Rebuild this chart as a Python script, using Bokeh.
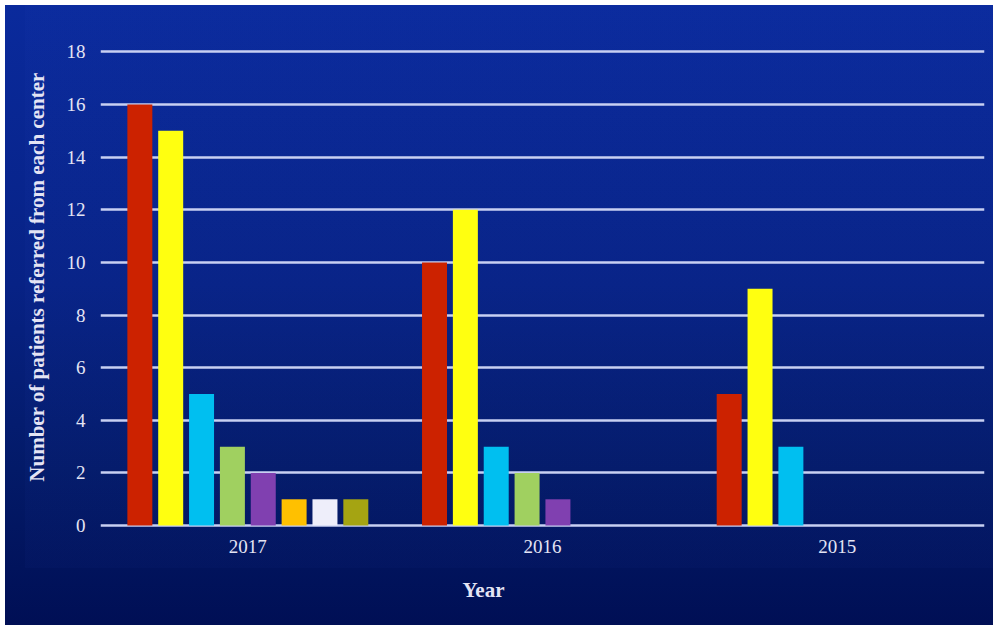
from bokeh.plotting import figure
from bokeh.models import ColumnDataSource, Range1d, FactorRange, FixedTicker, Title
from bokeh.transform import dodge
from bokeh.embed import file_html
from bokeh.resources import INLINE

# ---- data ----
years = ["2017", "2016", "2015"]
centers = ["Center 1", "Center 2", "Center 3", "Center 4",
           "Center 5", "Center 6", "Center 7", "Center 8"]
center_1 = [16, 10, 5]
center_2 = [15, 12, 9]
center_3 = [5, 3, 3]
center_4 = [3, 2, 0]
center_5 = [2, 1, 0]
center_6 = [1, 0, 0]
center_7 = [1, 0, 0]
center_8 = [1, 0, 0]
series = [center_1, center_2, center_3, center_4,
          center_5, center_6, center_7, center_8]
colors = ["#cc2200", "#ffff10", "#00bff0", "#a0d060",
          "#8040b0", "#ffc000", "#eeeefa", "#a5a412"]
y_ticks = [0, 2, 4, 6, 8, 10, 12, 14, 16, 18]

data = {"year": years}
for name, vals in zip(centers, series):
    data[name] = vals
src = ColumnDataSource(data)

TXT = "#e4e4f4"
FONT = "Liberation Serif"

p = figure(width=988, height=620, x_range=FactorRange(*years),
           y_range=Range1d(-0.11, 19.0),
           output_backend="svg", toolbar_location=None,
           min_border_left=95, min_border_right=9,
           min_border_top=20, min_border_bottom=97)
p.background_fill_alpha = 0
p.border_fill_alpha = 0
p.outline_line_color = None
p.styles = {
    "margin-left": "5px",
    "margin-top": "5px",
    "background": (
        "linear-gradient(rgba(60,90,220,0.035), rgba(60,90,220,0.035)) "
        "20px 0px / calc(100% - 20px) 563px no-repeat, "
        "linear-gradient(to bottom, #0a2a9c 0%, #072285 45%, #031a68 75%, #000f55 100%)"
    ),
}

n = len(centers)
step = 0.1047
for i, (name, col) in enumerate(zip(centers, colors)):
    p.vbar(x=dodge("year", (i - (n - 1) / 2) * step, range=p.x_range),
           top=name, width=0.0848, source=src,
           fill_color=col, line_color=None)

# grid
p.xgrid.grid_line_color = None
p.ygrid.grid_line_color = "#c8d0f2"
p.ygrid.grid_line_width = 2.5
p.yaxis.ticker = FixedTicker(ticks=y_ticks)

for ax in (p.xaxis[0], p.yaxis[0]):
    ax.axis_line_color = None
    ax.major_tick_line_color = None
    ax.minor_tick_line_color = None
    ax.major_tick_out = 0
    ax.major_tick_in = 0
    ax.minor_tick_out = 0
    ax.major_label_text_color = TXT
    ax.major_label_text_font = FONT
    ax.major_label_text_font_size = "19px"
    ax.axis_label_text_color = TXT
    ax.axis_label_text_font = FONT
    ax.axis_label_text_font_style = "bold"

p.yaxis.major_label_standoff = 15
p.yaxis.axis_label = "Number of patients referred from each center"
p.yaxis.axis_label_text_font_size = "21px"
p.yaxis.axis_label_standoff = 15

p.xaxis.major_label_standoff = 11

# x-axis title "Year" (left of centre, as in the original)
p.add_layout(Title(text="Year", align="left", offset=362, standoff=41,
                   text_color=TXT, text_font=FONT, text_font_style="bold",
                   text_font_size="21px"), "below")

open("out.html", "w").write(file_html(p, INLINE))
